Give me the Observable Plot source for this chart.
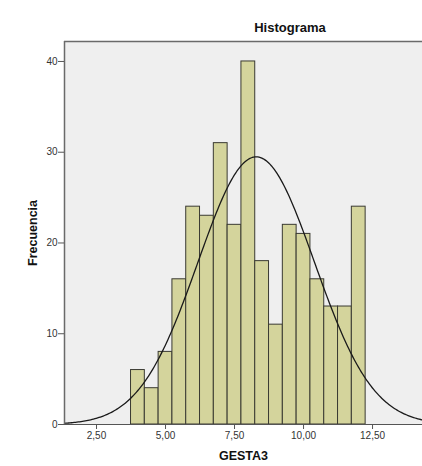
<!DOCTYPE html>
<html>
<head>
<meta charset="utf-8">
<script src="https://cdn.jsdelivr.net/npm/d3@7"></script>
<script src="https://cdn.jsdelivr.net/npm/@observablehq/plot@0.6"></script>
<style>
  html, body { margin: 0; padding: 0; background: #ffffff; }
  #wrap { width: 422px; height: 466px; overflow: hidden; position: relative; font-family: "Liberation Sans", Arial, sans-serif; }
  #title { position: relative; height: 36px; }
  #title span { position: absolute; left: 190px; width: 200px; top: 20px; line-height: 16px; text-align: center; font-weight: bold; font-size: 13px; color: #111; }
  svg { display: block; }
  g[aria-label="y-axis label"] text, g[aria-label="x-axis label"] text { font-weight: bold; font-size: 12.5px; fill: #111; }
</style>
</head>
<body>
<div id="wrap">
  <div id="title"><span>Histograma</span></div>
  <div id="chart"></div>
</div>
<script>
// Histogram bins (lower edges) and frequencies
const binLow = [3.75, 4.25, 4.75, 5.25, 5.75, 6.25, 6.75, 7.25, 7.75, 8.25, 8.75, 9.25, 9.75, 10.25, 10.75, 11.25, 11.75];
const counts = [6, 4, 8, 16, 24, 23, 31, 22, 40, 18, 11, 22, 21, 16, 13, 13, 24];
const binWidth = 0.5;
const xTicks = [2.5, 5, 7.5, 10, 12.5];
const yTicks = [0, 10, 20, 30, 40];
const xDomain = [1.34, 14.31];
const yDomain = [0, 42.2];

const bins = binLow.map((lo, i) => ({lo, hi: lo + binWidth, count: counts[i], mid: lo + binWidth / 2}));

// Fitted normal curve (as SPSS draws it), using mean and sd of the binned data
const N = d3.sum(bins, d => d.count);
const mean = d3.sum(bins, d => d.mid * d.count) / N;
const sd = Math.sqrt(d3.sum(bins, d => d.count * (d.mid - mean) ** 2) / (N - 1));
const curve = d3.range(xDomain[0], xDomain[1] + 0.001, 0.05).map(x => ({
  x,
  y: N * binWidth / (sd * Math.sqrt(2 * Math.PI)) * Math.exp(-0.5 * ((x - mean) / sd) ** 2)
}));

const fmt = d => d.toFixed(2).replace(".", ",");

const chart = Plot.plot({
  width: 422,
  height: 430,
  marginLeft: 64,
  marginRight: 0,
  marginTop: 5,
  marginBottom: 42,
  style: {fontFamily: "Liberation Sans, Arial, sans-serif", fontSize: "10px", color: "#333", background: "transparent"},
  x: {domain: xDomain},
  y: {domain: yDomain},
  marks: [
    Plot.frame({fill: "#efefef", stroke: null}),
    Plot.rectY(bins, {x1: "lo", x2: "hi", y: "count", fill: "#d4d49c", stroke: "#3a3a32", strokeWidth: 1}),
    Plot.line(curve, {x: "x", y: "y", stroke: "#1a1a1a", strokeWidth: 1.3}),
    Plot.ruleX([xDomain[0]], {stroke: "#6a6a6a", strokeWidth: 1.5}),
    Plot.ruleY([yDomain[1]], {stroke: "#6a6a6a", strokeWidth: 1.5}),
    Plot.ruleY([0], {stroke: "#555", strokeWidth: 1.2}),
    Plot.axisY({ticks: yTicks, tickSize: 6, tickPadding: 1, tickFormat: d => String(d), label: "Frecuencia", labelArrow: "none", labelAnchor: "center", labelOffset: 36, stroke: "#555"}),
    Plot.axisX({ticks: xTicks, tickSize: 5, tickPadding: 2, tickFormat: fmt, label: "GESTA3", labelArrow: "none", labelAnchor: "center", labelOffset: 35, stroke: "#555"})
  ]
});
document.getElementById("chart").appendChild(chart);
</script>
</body>
</html>
